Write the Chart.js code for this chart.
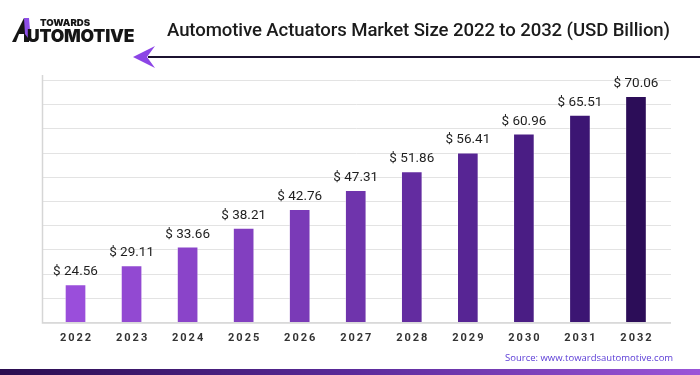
<!DOCTYPE html>
<html>
<head>
<meta charset="utf-8">
<script src="https://cdn.jsdelivr.net/npm/chart.js@4.4.1/dist/chart.umd.min.js"></script>
<style>
  html, body { margin: 0; padding: 0; background: #fff; }
  #wrap { position: relative; width: 700px; height: 375px; overflow: hidden; font-family: Roboto, "Noto Sans", sans-serif; }
  #c { position: absolute; left: 0; top: 0; }
  .title { position: absolute; left: 167px; top: 19px; font-size: 18.6px; font-weight: 500; color: #1b1b1b; white-space: nowrap; letter-spacing: -0.1px; }
  .logo1 { position: absolute; left: 40px; top: 17px; font-family: Inter, sans-serif; font-size: 9.6px; font-weight: 900; color: #161616; }
  .logo2 { position: absolute; left: 27px; top: 25px; font-family: Inter, sans-serif; font-size: 17.5px; font-weight: 900; color: #161616; letter-spacing: -0.2px; }
  .arrowline { position: absolute; left: 148px; top: 56px; width: 560px; height: 2px; background: #1c1330; }
  .source { position: absolute; left: 505px; top: 351px; font-family: "Open Sans", sans-serif; font-size: 9.5px; color: #5a3bd6; white-space: nowrap; }
  .strip { position: absolute; left: 0; top: 369px; width: 700px; height: 6px; background: linear-gradient(to right, #2a0d4f, #5a2a9a 50%, #9b55d8); }
</style>
</head>
<body>
<div id="wrap">
  <canvas id="c" width="700" height="375"></canvas>
  <svg style="position:absolute;left:10px;top:14px" width="30" height="32" viewBox="0 0 30 32">
    <polygon points="2,28 14,4 19,4 19,28 14,28 14,20 9,20 6,28" fill="#161616"/>
    <polygon points="14,4 19,4 21,28 15,20" fill="#8e4ee8"/>
  </svg>
  <div class="logo1">TOWARDS</div>
  <div class="logo2">UTOMOTIVE</div>
  <div class="title">Automotive Actuators Market Size 2022 to 2032 (USD Billion)</div>
  <div class="arrowline"></div>
  <svg style="position:absolute;left:133px;top:46px" width="24" height="22" viewBox="0 0 24 22">
    <polygon points="0,11 22,0 14,11 22,22" fill="#8c45e6"/>
  </svg>
  <div class="source">Source: www.towardsautomotive.com</div>
  <div class="strip"></div>
</div>
<script>
const years = ['2022', '2023', '2024', '2025', '2026', '2027', '2028', '2029', '2030', '2031', '2032'];
const marketSize = [24.56, 29.11, 33.66, 38.21, 42.76, 47.31, 51.86, 56.41, 60.96, 65.51, 70.06];
const barColors = ['#9a4edb', '#9249d2', '#8a44c9', '#823fc0', '#7a3ab7', '#6f34ac', '#632ca0', '#572594', '#4a1d84', '#3c1573', '#2c0d58'];

// grid lines + axis lines, drawn a bit wider than the bars area
const gridPlugin = {
    id: 'grid',
    beforeDatasetsDraw(chart) {
        const {ctx, chartArea, scales} = chart;
        const y = scales.y;
        const l = chartArea.left - 5, r = chartArea.right + 7;
        ctx.save();
        ctx.strokeStyle = '#e3e3e3';
        ctx.lineWidth = 1;
        y.ticks.forEach(t => {
            const py = Math.round(y.getPixelForValue(t.value)) + 0.5;
            ctx.beginPath(); ctx.moveTo(l, py); ctx.lineTo(r, py); ctx.stroke();
        });
        ctx.strokeStyle = '#d6d6d6';
        ctx.lineWidth = 1.5;
        ctx.beginPath(); ctx.moveTo(l, chartArea.top - 5); ctx.lineTo(l, chartArea.bottom + 1); ctx.lineTo(r, chartArea.bottom + 1); ctx.stroke();
        ctx.restore();
    }
};

// value labels on top + spaced year labels below
const labelPlugin = {
    id: 'labels',
    afterDatasetsDraw(chart) {
        const {ctx, scales} = chart;
        const meta = chart.getDatasetMeta(0);
        ctx.save();
        ctx.textAlign = 'center';
        ctx.fillStyle = '#1e1e1e';
        ctx.font = '13.5px Roboto, sans-serif';
        ctx.textBaseline = 'bottom';
        meta.data.forEach((bar, i) => {
            ctx.fillText('$ ' + marketSize[i].toFixed(2), bar.x, bar.y - 6);
        });
        ctx.font = 'bold 11px Roboto, sans-serif';
        ctx.fillStyle = '#333';
        ctx.textBaseline = 'middle';
        ctx.letterSpacing = '2px';
        years.forEach((yr, i) => {
            ctx.fillText(yr, scales.x.getPixelForValue(i) + 1, chart.chartArea.bottom + 16);
        });
        ctx.restore();
    }
};

new Chart(document.getElementById('c'), {
    type: 'bar',
    data: {
        labels: years,
        datasets: [{
            data: marketSize,
            backgroundColor: barColors,
            borderColor: 'rgba(255,255,255,0.35)',
            borderWidth: 1,
            barThickness: 21
        }]
    },
    options: {
        responsive: false,
        animation: false,
        devicePixelRatio: 1,
        layout: { padding: { left: 39.5, right: 36, top: 80, bottom: 45 } },
        plugins: { legend: { display: false }, tooltip: { enabled: false } },
        scales: {
            x: { grid: { display: false }, border: { display: false }, ticks: { display: false } },
            y: {
                min: 15.5, max: 74,
                ticks: { display: false, stepSize: 5.85 },
                grid: { display: false },
                border: { display: false }
            }
        }
    },
    plugins: [gridPlugin, labelPlugin]
});
</script>
</body>
</html>
